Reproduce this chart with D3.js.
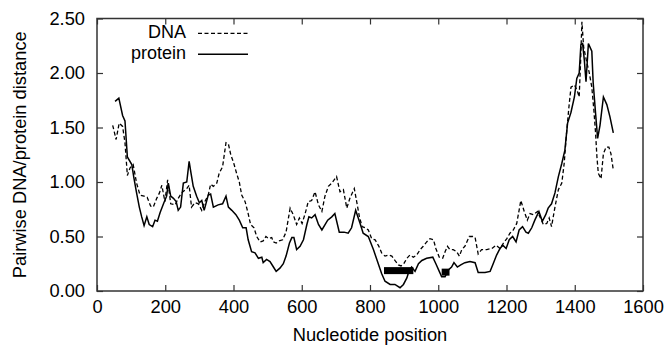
<!DOCTYPE html>
<html><head><meta charset="utf-8">
<script src="https://cdn.jsdelivr.net/npm/d3@7"></script>
<style>body{margin:0;background:#fff} svg text{font-family:"Liberation Sans",Arial,Helvetica,sans-serif;fill:#000}</style>
</head><body><svg id="c" width="668" height="347"></svg>
<script>
// Data
const dnaPos = [46,56,65,75,82,89,97,106,116,126,138,147,157,165,175,183,190,199,207,216,229,238,248,263,270,277,287,297,307,316,326,333,341,351,358,368,378,385,392,401,409,417,424,434,443,450,460,468,478,487,495,503,512,517,525,534,544,554,566,575,585,593,601,610,619,629,639,649,659,668,678,688,702,712,722,732,741,754,761,769,777,787,795,805,815,826,834,844,854,864,873,883,891,899,908,917,927,937,947,956,966,976,986,993,1003,1013,1020,1027,1034,1044,1054,1062,1069,1078,1091,1101,1108,1117,1127,1142,1157,1169,1181,1191,1201,1210,1220,1230,1242,1252,1261,1269,1279,1291,1298,1308,1318,1325,1332,1342,1352,1362,1369,1376,1383,1389,1399,1407,1413,1417,1421,1426,1435,1442,1450,1456,1461,1465,1469,1477,1484,1492,1500,1506,1513];
const dnaDist = [1.52,1.39,1.54,1.51,1.36,1.06,1.13,1.16,0.99,0.88,0.87,0.86,0.78,0.77,0.85,0.90,0.97,0.82,1.02,0.80,0.79,0.85,0.90,0.94,0.97,0.77,0.81,0.80,0.74,0.82,0.88,0.98,0.96,0.99,1.08,1.14,1.36,1.35,1.25,1.17,1.08,1.00,0.88,0.82,0.71,0.61,0.58,0.50,0.45,0.46,0.50,0.48,0.49,0.45,0.44,0.46,0.47,0.54,0.76,0.70,0.61,0.67,0.62,0.71,0.82,0.83,0.91,0.79,0.73,0.87,0.96,0.99,1.05,0.91,0.93,0.76,0.85,0.94,0.82,0.68,0.59,0.58,0.56,0.48,0.47,0.41,0.35,0.32,0.33,0.32,0.28,0.24,0.23,0.25,0.30,0.33,0.31,0.33,0.38,0.41,0.45,0.48,0.47,0.39,0.31,0.30,0.36,0.41,0.38,0.38,0.36,0.32,0.38,0.41,0.50,0.50,0.49,0.34,0.38,0.38,0.39,0.42,0.39,0.44,0.48,0.53,0.56,0.62,0.83,0.73,0.65,0.71,0.70,0.73,0.68,0.61,0.62,0.67,0.59,0.77,0.93,0.99,1.17,1.45,1.69,1.87,1.89,1.84,1.78,2.09,2.47,2.24,2.10,2.01,1.87,1.66,1.45,1.23,1.08,1.03,1.26,1.32,1.32,1.26,1.11];
const proteinPos = [53,64,75,82,89,102,108,116,124,131,138,146,153,163,170,177,185,196,204,209,216,224,232,238,245,253,263,270,275,282,292,300,307,314,326,333,341,355,368,378,385,395,407,417,427,437,443,453,463,473,483,487,497,507,517,525,536,546,554,564,571,577,585,595,605,615,621,629,639,649,659,676,688,697,710,724,736,746,758,771,780,795,810,821,834,844,859,873,888,898,908,915,922,932,942,952,966,984,993,1003,1010,1020,1029,1039,1046,1056,1066,1078,1093,1108,1117,1137,1152,1161,1171,1181,1189,1199,1208,1218,1228,1237,1247,1257,1264,1274,1283,1295,1305,1315,1322,1332,1342,1352,1362,1371,1379,1389,1399,1406,1413,1418,1423,1428,1433,1440,1450,1454,1461,1467,1474,1484,1494,1503,1513];
const proteinDist = [1.74,1.77,1.61,1.56,1.23,1.16,1.04,0.90,0.77,0.68,0.60,0.68,0.61,0.59,0.65,0.64,0.72,0.81,0.87,0.99,0.87,0.85,0.82,0.74,0.77,0.99,1.00,1.19,1.09,0.96,0.87,0.81,0.83,0.74,0.88,0.89,0.77,0.79,0.80,0.87,0.77,0.74,0.70,0.65,0.58,0.58,0.47,0.36,0.35,0.30,0.31,0.26,0.29,0.27,0.22,0.18,0.21,0.25,0.32,0.44,0.49,0.49,0.38,0.41,0.47,0.61,0.68,0.67,0.70,0.61,0.56,0.65,0.68,0.71,0.54,0.54,0.53,0.58,0.74,0.62,0.53,0.50,0.38,0.28,0.16,0.09,0.06,0.06,0.03,0.06,0.12,0.19,0.22,0.18,0.25,0.28,0.30,0.31,0.25,0.18,0.13,0.13,0.19,0.22,0.26,0.22,0.24,0.26,0.27,0.26,0.17,0.17,0.18,0.25,0.33,0.39,0.42,0.39,0.47,0.50,0.45,0.56,0.59,0.54,0.53,0.58,0.65,0.73,0.64,0.70,0.76,0.80,0.90,1.05,1.17,1.29,1.54,1.64,1.78,1.95,2.00,2.26,2.27,2.12,1.92,2.27,2.20,1.91,1.63,1.40,1.52,1.78,1.71,1.60,1.45];
const regionStart = [841, 1010];
const regionEnd = [927, 1033];
const regionLevel = [0.187, 0.173];
const xTicks = [0,200,400,600,800,1000,1200,1400,1600];
const yTicks = [0,0.5,1.0,1.5,2.0,2.5];
const seriesNames = ["DNA","protein"];

const svg = d3.select("#c");
const L=97, R=643, T=18.5, B=291;
const x = d3.scaleLinear().domain([0,1600]).range([L,R]);
const y = d3.scaleLinear().domain([0,2.5]).range([B,T]);
const FS = 18.3;
const LFS = 18;

const line = d3.line().x(d=>x(d[0])).y(d=>y(d[1]));
const dna = dnaPos.map((p,i)=>[p,dnaDist[i]]);
const prot = proteinPos.map((p,i)=>[p,proteinDist[i]]);

// regions (black bars)
svg.selectAll("rect.reg").data(regionStart).enter().append("rect")
  .attr("x",(d,i)=>x(d)).attr("width",(d,i)=>x(regionEnd[i])-x(d))
  .attr("y",(d,i)=>y(regionLevel[i])-3.5).attr("height",7).attr("fill","#000");

svg.append("path").datum(dna).attr("d",line).attr("fill","none").attr("stroke","#000")
  .attr("stroke-width",1.3).attr("stroke-dasharray","4,2.5");
svg.append("path").datum(prot).attr("d",line).attr("fill","none").attr("stroke","#000")
  .attr("stroke-width",1.5);

// axes
function styleAxis(g){ g.select(".domain").remove(); g.selectAll("line").attr("stroke","#333").attr("stroke-width",1.2);
  g.selectAll("text").attr("font-size",FS).attr("fill","#000").style("font-family","'Liberation Sans',Arial,sans-serif"); }
svg.append("g").attr("transform",`translate(0,${B})`)
  .call(d3.axisBottom(x).tickValues(xTicks).tickSizeInner(-6).tickSizeOuter(0).tickPadding(9).tickFormat(d3.format("d")))
  .call(styleAxis);
svg.append("g").attr("transform",`translate(0,${T})`)
  .call(d3.axisTop(x).tickValues(xTicks).tickSizeInner(-6).tickSizeOuter(0).tickFormat(""))
  .call(styleAxis);
svg.append("g").attr("transform",`translate(${L},0)`)
  .call(d3.axisLeft(y).tickValues(yTicks).tickSizeInner(-6).tickSizeOuter(0).tickPadding(12).tickFormat(d3.format(".2f")))
  .call(styleAxis);
svg.append("g").attr("transform",`translate(${R},0)`)
  .call(d3.axisRight(y).tickValues(yTicks).tickSizeInner(-6).tickSizeOuter(0).tickFormat(""))
  .call(styleAxis);

// frame
svg.append("rect").attr("x",L).attr("y",T).attr("width",R-L).attr("height",B-T)
  .attr("fill","none").attr("stroke","#333").attr("stroke-width",1.5);

// legend
const lg = svg.append("g");
[0,1].forEach(i=>{
  const yy = 33.3 + i*21;
  lg.append("text").attr("x",186).attr("y",yy).attr("dy","0.27em").attr("text-anchor","end")
    .attr("font-size",LFS).text(seriesNames[i]);
  lg.append("line").attr("x1",198).attr("x2",248).attr("y1",yy).attr("y2",yy)
    .attr("stroke","#000").attr("stroke-width",i?1.5:1.3).attr("stroke-dasharray",i?null:"4,2.5");
});

// axis titles
svg.append("text").attr("x",(L+R)/2).attr("y",341).attr("text-anchor","middle")
  .attr("font-size",FS).text("Nucleotide position");
svg.append("text").attr("transform",`translate(26,${(T+B)/2}) rotate(-90)`).attr("text-anchor","middle")
  .attr("font-size",FS).text("Pairwise DNA/protein distance");
</script></body></html>
